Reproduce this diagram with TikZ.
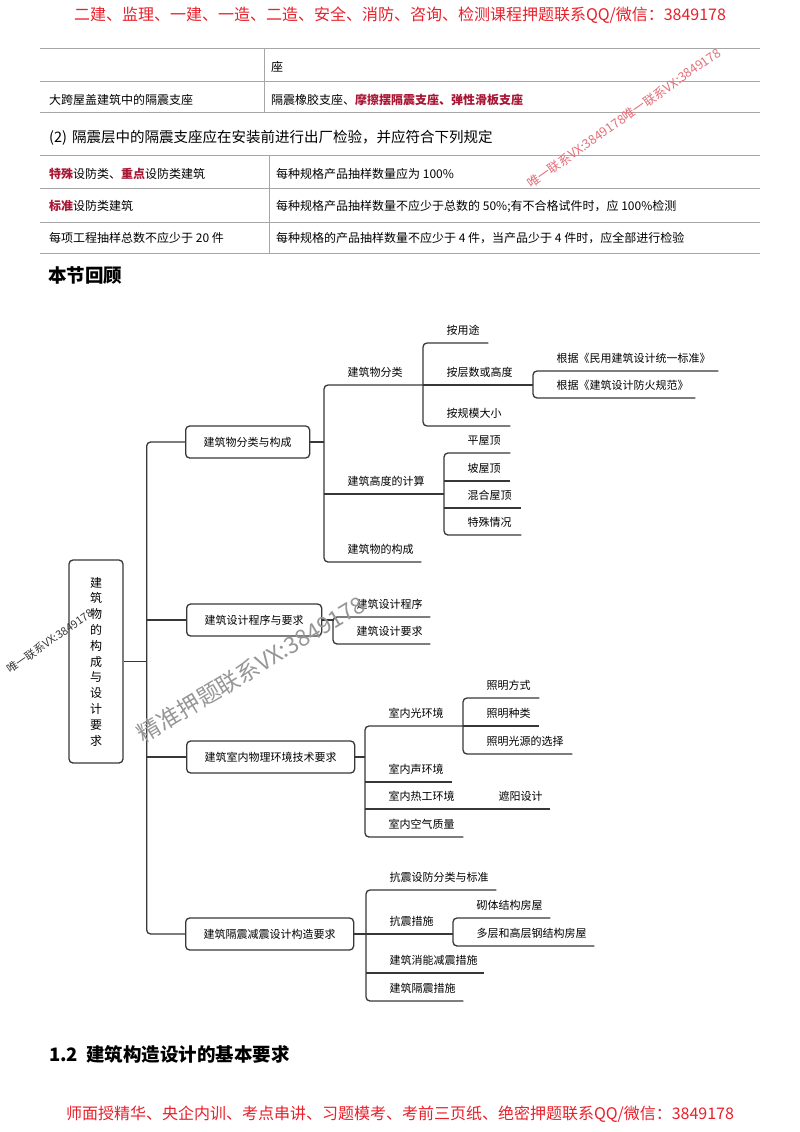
\documentclass[tikz,border=0pt]{standalone}
\usepackage{fontspec}
\setmainfont{Noto Sans CJK SC}
\usetikzlibrary{positioning, calc}

\definecolor{adred}{RGB}{232,32,42}
\definecolor{keyred}{RGB}{168,22,52}
\definecolor{mapline}{RGB}{55,55,55}
\definecolor{wmgray}{RGB}{150,150,150}
\definecolor{wmpink}{RGB}{226,110,120}

\begin{document}
\begin{tikzpicture}[x=1pt, y=-1pt,
    ad/.style={inner sep=0pt, anchor=base, text=adred, font=\fontsize{16}{16}\selectfont},
    cell/.style={inner sep=0pt, anchor=base west, font=\fontsize{12}{12}\selectfont},
    rule/.style={draw=gray!70, line width=0.8pt},
    heading/.style={inner sep=0pt, anchor=base west, font=\fontsize{18.5}{18.5}\selectfont\bfseries},
    rootbox/.style={draw=mapline, line width=1.3pt, rounded corners=4pt, minimum width=54pt,
                    minimum height=203pt, align=center, font=\fontsize{12}{15.8}\selectfont},
    topic/.style={draw=mapline, line width=1.3pt, rounded corners=4pt, anchor=west,
                  minimum height=32pt, inner xsep=18pt, font=\fontsize{11}{11}\selectfont},
    leaf/.style={anchor=south west, inner xsep=0pt, inner ysep=6pt, text depth=2pt, align=left,
                 font=\fontsize{11}{11}\selectfont, execute at begin node={\hspace*{23.5pt}}},
    link/.style={draw=mapline, line width=1.3pt},
    elbow/.style={link, rounded corners=4pt},
    wm/.style={inner sep=0pt, rotate=35}
]
\useasboundingbox (0,0) rectangle (800,1132);

% header and footer
\node[ad] (top) at (400,21) {二建、监理、一建、一造、二造、安全、消防、咨询、检测课程押题联系QQ/微信：3849178};
\node[ad] (bottom) at (400,1119) {师面授精华、央企内训、考点串讲、习题模考、考前三页纸、绝密押题联系QQ/微信：3849178};

% table 1
\foreach \y in {48,81.5,112.7}{\draw[rule] (40,\y) -- (760,\y);}
\draw[rule] (264,48) -- (264,112.7);
\node[cell] (seat) at (271,71) {座};
\node[cell] (span) at (49,104) {大跨屋盖建筑中的隔震支座};
\node[cell] (bear) at (271,104) {隔震橡胶支座、\textcolor{keyred}{\textbf{摩擦摆隔震支座、弹性滑板支座}}};

\node[inner sep=0pt, anchor=base west, font=\fontsize{14.5}{14.5}\selectfont] (rule2) at (49,142)
     {(2)\hspace{5pt}隔震层中的隔震支座应在安装前进行出厂检验，并应符合下列规定};

% table 2
\foreach \y in {155.5,188,222,253}{\draw[rule] (40,\y) -- (760,\y);}
\draw[rule] (269,155.5) -- (269,253);
\node[cell] (r1a) at (49,178) {\textcolor{keyred}{\textbf{特殊}}设防类、\textcolor{keyred}{\textbf{重点}}设防类建筑};
\node[cell] (r1b) at (276,178) {每种规格产品抽样数量应为 100\%};
\node[cell] (r2a) at (49,210) {\textcolor{keyred}{\textbf{标准}}设防类建筑};
\node[cell] (r2b) at (276,210) {每种规格产品抽样数量不应少于总数的 50\%;有不合格试件时，应 100\%检测};
\node[cell] (r3a) at (49,242.5) {每项工程抽样总数不应少于 20 件};
\node[cell] (r3b) at (276,242.5) {每种规格的产品抽样数量不应少于 4 件，当产品少于 4 件时，应全部进行检验};

\node[heading] (review) at (48,282) {本节回顾};
\node[heading] (next) at (49,1061) {1.2\hspace{8pt}建筑构造设计的基本要求};

% mind map
\node[rootbox] (root) at (96,661.5) {建\\筑\\物\\的\\构\\成\\与\\设\\计\\要\\求};
\coordinate (trunk) at ($(root.east)+(23,0)$);
\node[topic] (classify) at (185,442) {建筑物分类与构成};
\node[topic] (design) at (186,620) {建筑设计程序与要求};
\node[topic] (envir) at (186,757) {建筑室内物理环境技术要求};
\node[topic] (seismic) at (185,934) {建筑隔震减震设计构造要求};

\foreach \n/\x/\y/\w/\t in {
    kind/324/385/99/建筑物分类, height/324/494/120/建筑高度的计算, compose/324/562/97/建筑物的构成,
    use/423/343/65/按用途, storey/423/385/110/按层数或高度, scale/423/426/87/按规模大小,
    std/533/371/185/根据《民用建筑设计统一标准》, fire/533/398/162/根据《建筑设计防火规范》,
    flat/444/453/66/平屋顶, slope/444/481/66/坡屋顶, mixed/444/508/77/混合屋顶, special/444/535/77/特殊情况,
    proc/333/617/97/建筑设计程序, req/333/644/97/建筑设计要求,
    light/365/726/98/室内光环境, sound/365/782/87/室内声环境, thermal/365/809/110/室内热工环境,
    shade/475/809/75/遮阳设计, air/365/837/98/室内空气质量,
    lmode/463/698/76/照明方式, ltype/463/726/76/照明种类, lsrc/463/754/109/照明光源的选择,
    level/366/890/130/抗震设防分类与标准, measure/366/934/87/抗震措施,
    damp/366/973/118/建筑消能减震措施, isolate/366/1001/97/建筑隔震措施,
    masonry/453/918/97/砌体结构房屋, steel/453/946/141/多层和高层钢结构房屋}
  {\node[leaf, text width=\w pt] (\n) at (\x,\y) {\t};}

% trunk
\draw[link] (root.east) -- (trunk);
\draw[elbow] (classify.west) -| (trunk) |- (seismic.west);
\draw[link] (design.west) -- (design.west -| trunk);
\draw[link] (envir.west) -- (envir.west -| trunk);

% branches
\draw[link] (classify.east) -- (classify.east -| kind.south west);
\draw[elbow] (kind.south east) -- (kind.south west) -- (compose.south west) -- (compose.south east);
\draw[link] (height.south west) -- (height.south east);
\draw[elbow] (use.south east) -- (use.south west) -- (scale.south west) -- (scale.south east);
\draw[link] (storey.south west) -- (storey.south east);
\draw[elbow] (std.south east) -- (std.south west) -- (fire.south west) -- (fire.south east);
\draw[elbow] (flat.south east) -- (flat.south west) -- (special.south west) -- (special.south east);
\foreach \n in {slope, mixed}{\draw[link] (\n.south west) -- (\n.south east);}

\draw[link] (design.east) -- (design.east -| proc.south west);
\draw[elbow] (proc.south east) -- (proc.south west) -- (req.south west) -- (req.south east);

\draw[link] (envir.east) -- (envir.east -| light.south west);
\draw[elbow] (light.south east) -- (light.south west) -- (air.south west) -- (air.south east);
\foreach \n in {sound, thermal, shade}{\draw[link] (\n.south west) -- (\n.south east);}
\draw[elbow] (lmode.south east) -- (lmode.south west) -- (lsrc.south west) -- (lsrc.south east);
\draw[link] (ltype.south west) -- (ltype.south east);

\draw[link] (seismic.east) -- (seismic.east -| level.south west);
\draw[elbow] (level.south east) -- (level.south west) -- (isolate.south west) -- (isolate.south east);
\foreach \n in {measure, damp}{\draw[link] (\n.south west) -- (\n.south east);}
\draw[elbow] (masonry.south east) -- (masonry.south west) -- (steel.south west) -- (steel.south east);

% watermarks
\node[wm, text=wmpink, font=\fontsize{12.5}{12.5}\selectfont] (wmtop) at (624,118) {唯一联系VX:3849178唯一联系VX:3849178};
\node[wm, text=mapline, font=\fontsize{11}{11}\selectfont] (wmleft) at (50,641) {唯一联系VX:3849178};
\node[wm, rotate=-4, text=wmgray, font=\fontsize{23}{23}\selectfont] (wmmid) at (251,669) {精准押题联系VX:3849178};
\end{tikzpicture}
\end{document}
